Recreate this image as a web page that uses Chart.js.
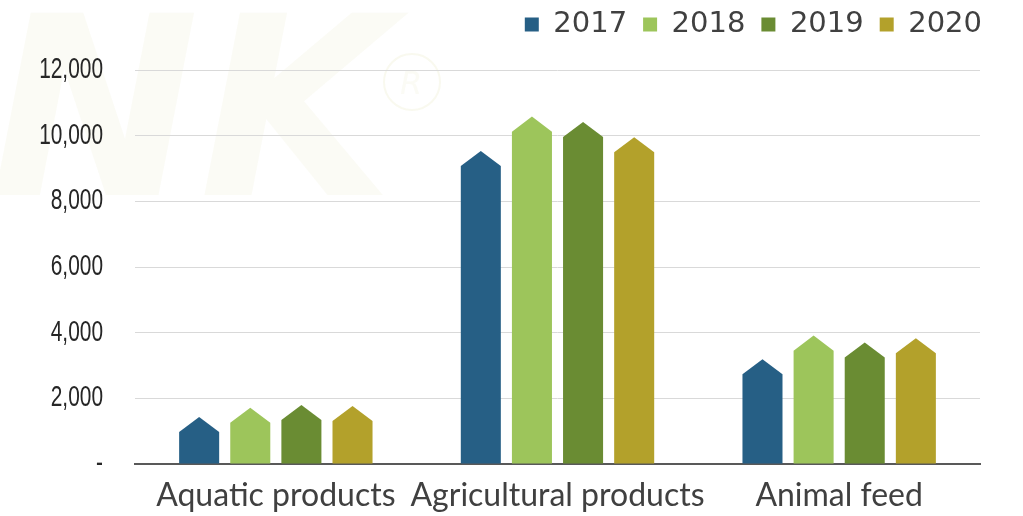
<!DOCTYPE html>
<html>
<head>
<meta charset="utf-8">
<script src="https://cdn.jsdelivr.net/npm/chart.js@4/dist/chart.umd.min.js"></script>
<style>
  html, body { margin: 0; padding: 0; background: #fff; }
  #wrap { width: 1023px; height: 516px; }
</style>
</head>
<body>
<div id="wrap"><canvas id="chart"></canvas></div>
<script>
// data
const categories = ['Aquatic products', 'Agricultural products', 'Animal feed'];
const years = ['2017', '2018', '2019', '2020'];
const v2017 = [1430, 9530, 3190];
const v2018 = [1710, 10580, 3910];
const v2019 = [1800, 10420, 3700];
const v2020 = [1770, 9950, 3830];
const yTicks = [0, 2000, 4000, 6000, 8000, 10000, 12000];

const colors = ['#265f85', '#9dc55b', '#6a8c33', '#b3a12b'];

// bars drawn as arrows (pentagon top)
const arrowBars = {
  id: 'arrowBars',
  beforeDatasetsDraw(chart) {
    chart.data.datasets.forEach((ds, i) => {
      chart.getDatasetMeta(i).data.forEach(el => {
        el.draw = function (ctx) {
          const p = this.getProps(['x', 'y', 'base', 'width'], true);
          const half = p.width / 2;
          const h = p.width * 0.375;
          ctx.save();
          ctx.fillStyle = this.options.backgroundColor;
          ctx.beginPath();
          ctx.moveTo(p.x - half, p.base);
          ctx.lineTo(p.x - half, p.y + h);
          ctx.lineTo(p.x, p.y);
          ctx.lineTo(p.x + half, p.y + h);
          ctx.lineTo(p.x + half, p.base);
          ctx.closePath();
          ctx.fill();
          ctx.restore();
        };
      });
    });
  }
};

// taller legend box so the plot starts lower
const legendSpace = {
  id: 'legendSpace',
  afterInit(chart) {
    const lg = chart.legend;
    const fit = lg.fit;
    lg.fit = function () { fit.call(this); this.height += 21; };
  }
};

// y tick labels in a narrow face (horizontally squeezed)
const narrowTicks = {
  id: 'narrowTicks',
  afterDraw(chart) {
    const s = chart.scales.y, ctx = chart.ctx;
    ctx.save();
    ctx.fillStyle = '#262626';
    ctx.font = '29px "Liberation Sans"';
    ctx.textAlign = 'right';
    ctx.textBaseline = 'middle';
    ctx.scale(0.72, 1);
    s.ticks.forEach(t => {
      ctx.fillText(t.label, 103 / 0.72, s.getPixelForValue(t.value));
    });
    ctx.restore();
  }
};

// faint watermark behind everything
const watermark = {
  id: 'watermark',
  beforeDraw(chart) {
    const ctx = chart.ctx;
    ctx.save();
    ctx.textAlign = 'left';
    ctx.textBaseline = 'alphabetic';
    ctx.fillStyle = 'rgba(240,240,215,0.25)';
    ctx.font = 'italic bold 250px "DejaVu Sans"';
    ctx.fillText('NK', -10, 195);
    ctx.strokeStyle = 'rgba(240,240,215,0.4)';
    ctx.lineWidth = 2;
    ctx.beginPath();
    ctx.arc(412, 82, 28, 0, Math.PI * 2);
    ctx.stroke();
    ctx.font = 'italic 32px "DejaVu Sans"';
    ctx.fillText('R', 400, 94);
    ctx.restore();
  }
};

const values = [v2017, v2018, v2019, v2020];

new Chart(document.getElementById('chart'), {
  type: 'bar',
  data: {
    labels: categories,
    datasets: years.map((y, i) => ({
      label: y,
      data: values[i],
      backgroundColor: colors[i],
      borderWidth: 0,
      barPercentage: 0.783,
      categoryPercentage: 0.726
    }))
  },
  options: {
    responsive: true,
    maintainAspectRatio: false,
    animation: false,
    layout: { padding: { left: 0, right: 25, top: -6, bottom: 0 } },
    plugins: {
      tooltip: { enabled: false },
      legend: {
        position: 'top',
        align: 'end',
        labels: {
          boxWidth: 14,
          boxHeight: 14,
          padding: 16,
          color: '#404040',
          font: { family: '"DejaVu Sans"', size: 29 }
        }
      }
    },
    scales: {
      x: {
        grid: { display: false, drawTicks: false },
        border: { display: true, color: '#595959', width: 2 },
        ticks: {
          color: '#404040',
          padding: 12,
          maxRotation: 0,
          minRotation: 0,
          autoSkip: false,
          font: { family: 'Lato', size: 32 }
        },
        afterFit(s) { s.height = 52; }
      },
      y: {
        min: 0,
        max: 12000,
        afterBuildTicks(s) { s.ticks = yTicks.map(v => ({ value: v })); },
        grid: { color: '#d9d9d9', lineWidth: 1, drawTicks: false },
        border: { display: false },
        ticks: {
          color: 'rgba(0,0,0,0)',
          padding: 32,
          font: { family: '"Liberation Sans"', size: 27 },
          callback: v => v === 0 ? '-' : v.toLocaleString('en-US')
        },
        afterFit(s) { s.width = 135; }
      },
      y2: {
        position: 'right',
        grid: { display: false, drawTicks: false },
        border: { display: false },
        ticks: { display: false },
        afterFit(s) { s.width = 18; }
      }
    }
  },
  plugins: [watermark, legendSpace, arrowBars, narrowTicks]
});
</script>
</body>
</html>
